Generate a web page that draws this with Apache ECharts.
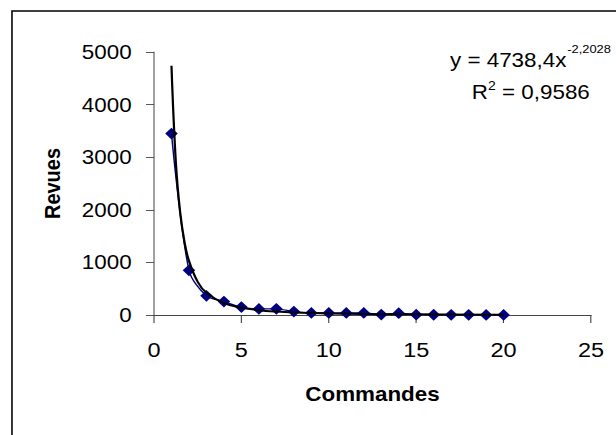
<!DOCTYPE html>
<html>
<head>
<meta charset="utf-8">
<script src="https://cdn.jsdelivr.net/npm/echarts@6/dist/echarts.min.js"></script>
<style>
html,body{margin:0;padding:0;background:#fff;overflow:hidden;width:616px;height:435px;}
#c{width:550px;height:435px;transform:scaleX(1.12);transform-origin:0 0;}
</style>
</head>
<body>
<div id="c"></div>
<script>
// Observed data: Commandes (x) vs Revues (y)
var commandes = [1,2,3,4,5,6,7,8,9,10,11,12,13,14,15,16,17,18,19,20];
var revues = [3450,850,365,255,150,115,118,65,40,40,40,40,8,35,7,5,4,3,2,2];
// Power trendline shown in chart (y = 4738,4 x^-2,2028), values read at sample x
var trendX = [1,1.25,1.5,1.75,2,2.5,3,4,5,6,7,8,10,12,15,20];
var trendY = [4738,2898,1940,1381,1029,630,421,224,137,91.5,65,48.6,29.7,19.9,12.2,6.45];
var xTicks = [0,5,10,15,20,25];
var yTicks = [0,1000,2000,3000,4000,5000];
var eqLine1 = 'y = 4738,4x';
var eqExp = '-2,2028';
var r2Label = 'R';
var r2Exp = '2';
var r2Value = ' = 0,9586';

var chart = echarts.init(document.getElementById('c'), null, {renderer:'svg'});
var font = 'Liberation Sans, Arial, sans-serif';
var scatterData = commandes.map(function(x,i){return [x, revues[i]];});
var trendData = trendX.map(function(x,i){return [x, trendY[i]];});

chart.setOption({
  backgroundColor:'#fff',
  animation:false,
  grid:{left:137.5, right:22.3, top:52, bottom:120},
  xAxis:{
    type:'value', min:xTicks[0], max:xTicks[xTicks.length-1], interval:5,
    name:'Commandes', nameLocation:'middle', nameGap:69,
    nameTextStyle:{fontFamily:font, fontSize:20, fontWeight:'bold', color:'#000'},
    axisLine:{show:true, onZero:false, lineStyle:{color:'#444', width:1}},
    axisTick:{show:true, inside:false, length:8, lineStyle:{color:'#444'}},
    axisLabel:{margin:24.5, fontFamily:font, fontSize:21, color:'#000', formatter:function(v){return String(v);}},
    splitLine:{show:false}
  },
  yAxis:{
    type:'value', min:yTicks[0], max:yTicks[yTicks.length-1], interval:1000,
    name:'Revues', nameLocation:'middle', nameGap:81,
    nameTextStyle:{fontFamily:font, fontSize:20, fontWeight:'bold', color:'#000'},
    axisLine:{show:true, lineStyle:{color:'#444', width:0.9}},
    axisTick:{show:true, inside:false, length:7.1, lineStyle:{color:'#444', width:0.9}},
    axisLabel:{margin:20, fontFamily:font, fontSize:20, color:'#000', formatter:function(v){return String(v);}},
    splitLine:{show:false}
  },
  series:[
    {
      type:'line', data:scatterData, smooth:0.3,
      symbol:'diamond', symbolSize:[11.2,11.8],
      lineStyle:{color:'#000080', width:1.3},
      itemStyle:{color:'#000080'}, z:2
    },
    {
      type:'line', data:trendData, smooth:0.4, symbol:'none',
      lineStyle:{color:'#000', width:2}, z:3
    }
  ],
  graphic:[
    {type:'rect', shape:{x:10.7, y:11, width:580, height:460}, style:{fill:'none', stroke:'#000', lineWidth:1.4}, silent:true},
    {type:'text', x:401.8, y:59.7, style:{text:eqLine1, font:'20px '+font, fill:'#000', textVerticalAlign:'middle'}},
    {type:'text', x:506.5, y:48.8, style:{text:eqExp, font:'11.5px '+font, fill:'#000', textVerticalAlign:'middle'}},
    {type:'text', x:421.2, y:92.3, style:{text:r2Label, font:'20px '+font, fill:'#000', textVerticalAlign:'middle'}},
    {type:'text', x:435.8, y:86, style:{text:r2Exp, font:'12.5px '+font, fill:'#000', textVerticalAlign:'middle'}},
    {type:'text', x:442.7, y:92.3, style:{text:r2Value, font:'20px '+font, fill:'#000', textVerticalAlign:'middle'}}
  ]
});
</script>
</body>
</html>
